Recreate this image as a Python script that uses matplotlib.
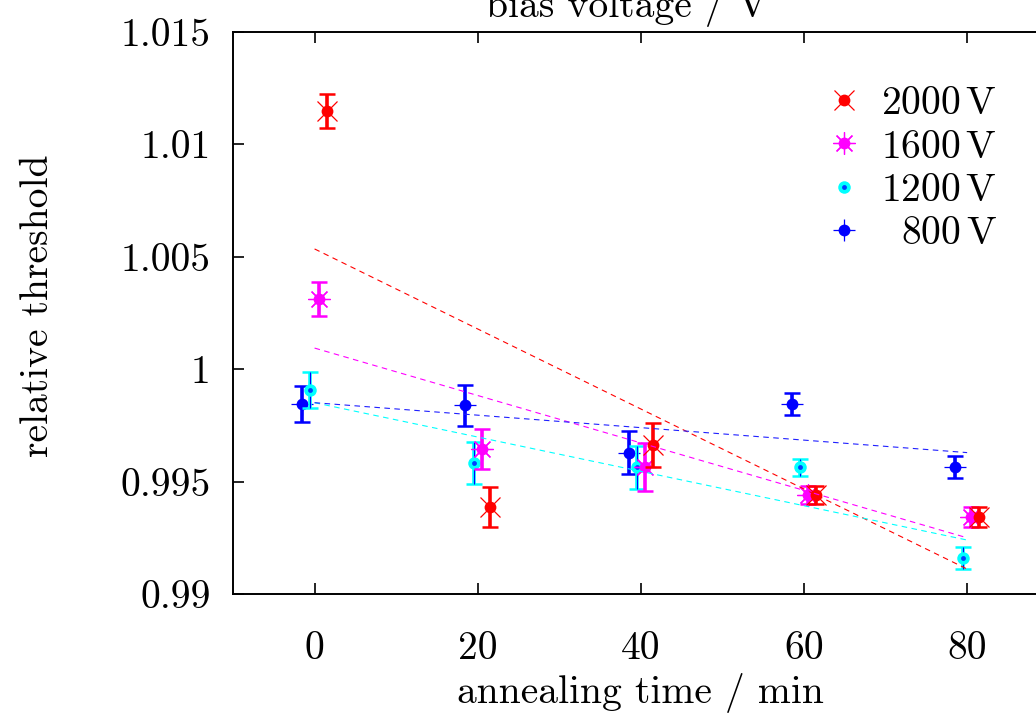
import numpy as np
import matplotlib
matplotlib.use("Agg")
from matplotlib import pyplot as plt

plt.rcParams['font.family'] = 'cmr10'
plt.rcParams['mathtext.fontset'] = 'cm'
plt.rcParams['axes.formatter.use_mathtext'] = True

# annealing time (points are shifted a bit per voltage so bars don't overlap)
t_2000 = [1.5, 21.5, 41.5, 61.5, 81.5]
t_1600 = [0.5, 20.5, 40.5, 60.5, 80.5]
t_1200 = [-0.5, 19.5, 39.5, 59.5, 79.5]
t_800 = [-1.5, 18.5, 38.5, 58.5, 78.5]

thr_2000 = [1.01149, 0.99387, 0.99663, 0.99440, 0.99344]
err_2000 = [0.00076, 0.00089, 0.00097, 0.00040, 0.00045]
thr_1600 = [1.00311, 0.99645, 0.99566, 0.99440, 0.99344]
err_1600 = [0.00076, 0.00089, 0.00106, 0.00040, 0.00045]
thr_1200 = [0.99907, 0.99581, 0.99564, 0.99564, 0.99159]
err_1200 = [0.00079, 0.00093, 0.00095, 0.00038, 0.00048]
thr_800 = [0.99845, 0.99839, 0.99629, 0.99845, 0.99564]
err_800 = [0.00080, 0.00090, 0.00095, 0.00047, 0.00050]

# linear fits, value at t=0 and t=80
fit_t = [0, 80]
fit_2000 = [1.00535, 0.99111]
fit_1600 = [1.00094, 0.99250]
fit_1200 = [0.99851, 0.99240]
fit_800 = [0.99851, 0.99629]

labels = ['2000$\\,$V', '1600$\\,$V', '1200$\\,$V', '800$\\,$V']
yticks = [0.99, 0.995, 1.0, 1.005, 1.01, 1.015]
ytick_labels = ['0.99', '0.995', '1', '1.005', '1.01', '1.015']
xticks = [0, 20, 40, 60, 80]

FS = 28.5
W, H = 1036, 717
fig = plt.figure(figsize=(W / 100, H / 100), dpi=100)
ax = fig.add_axes([233 / W, (H - 594) / H, (1048.7 - 233) / W, (594 - 32) / H])


def symbol(x, y, key, **kw):
    # filled circle plus the gnuplot point type on top
    ax.plot(x, y, 'o', color=key, ms=8.5 if key != 'cyan' else 9, mew=0, ls='none', **kw)
    if key == 'red':
        ax.plot(x, y, 'x', color=key, ms=15, mew=0.9, ls='none', **kw)
    elif key == 'magenta':
        ax.plot(x, y, marker=(8, 2, 0), color=key, ms=16, mew=0.9, ls='none', **kw)
    elif key == 'blue':
        ax.plot(x, y, '+', color=key, ms=15.5, mew=0.9, ls='none', **kw)
    else:
        ax.plot(x, y, 'o', color='#0040ff', ms=3.5, mew=0, ls='none', **kw)


series = [
    (t_800, thr_800, err_800, 'blue'),
    (t_1200, thr_1200, err_1200, 'cyan'),
    (t_1600, thr_1600, err_1600, 'magenta'),
    (t_2000, thr_2000, err_2000, 'red'),
]
for t, y, e, c in series:
    ax.errorbar(t, y, yerr=e, fmt='none', ecolor=c, elinewidth=2.6, capsize=5.6, capthick=1.8)
    if c == 'cyan':
        ax.errorbar(t, y, yerr=e, fmt='none', ecolor='blue', elinewidth=0.8, capsize=0)
    symbol(t, y, c)

for f, c in [(fit_2000, 'red'), (fit_1600, 'magenta'), (fit_1200, 'cyan'), (fit_800, '#2020ff')]:
    ax.plot(fit_t, f, color=c, lw=0.8, ls=(0, (5, 4)))

ax.set_xlim(-10, 90)
ax.set_ylim(0.99, 1.015)
ax.set_xticks(xticks)
ax.set_xticklabels([str(v) for v in xticks])
ax.set_yticks(yticks)
ax.set_yticklabels(ytick_labels)
ax.tick_params(axis='x', direction='in', length=8, width=1.2, top=True, labelsize=FS, pad=27)
ax.tick_params(axis='y', direction='in', length=8, width=1.2, right=True, labelsize=FS, pad=16)
for s in ax.spines.values():
    s.set_linewidth(1.4)

# key
rows = [100, 143.5, 187, 230.5]
for lab, c, ry in zip(labels, ['red', 'magenta', 'cyan', 'blue'], rows):
    symbol([(844 - 233) / 815.7], [(594 - ry) / 562], c, transform=ax.transAxes, clip_on=False)
    fig.text(997 / W, 1 - (ry + 14) / H, lab, ha='right', va='baseline', fontsize=FS)

fig.text(38 / W, 1 - 306 / H, 'relative threshold', rotation=90, ha='center', va='center', fontsize=FS)
fig.text(640 / W, 1 - 693 / H, 'annealing time / min', ha='center', va='center', fontsize=FS)
fig.text(627 / W, 1 - 17 / H, 'bias voltage / V', ha='center', va='baseline', fontsize=FS)

fig.savefig('out.png', dpi=100)
